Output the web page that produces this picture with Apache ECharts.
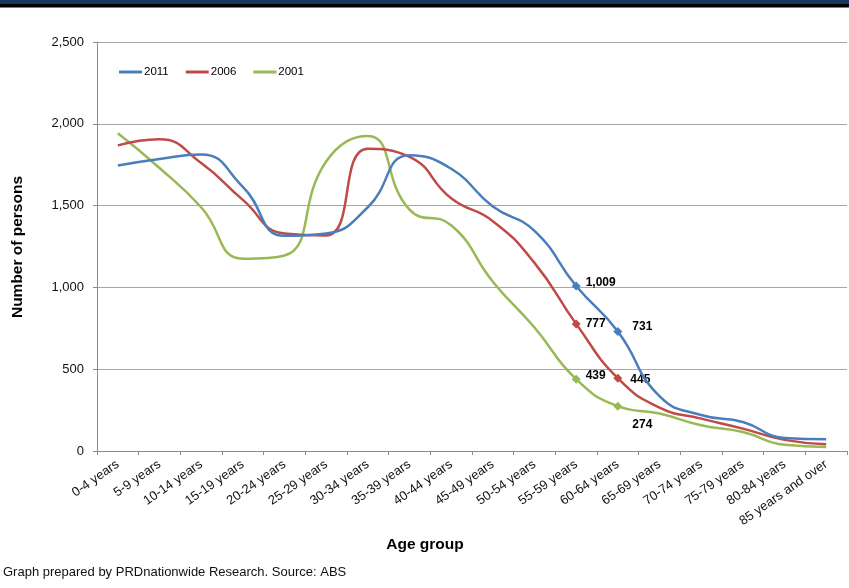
<!DOCTYPE html>
<html>
<head>
<meta charset="utf-8">
<script src="https://cdn.jsdelivr.net/npm/echarts@6/dist/echarts.min.js"></script>
<style>
html,body{margin:0;padding:0;background:#fff;}
#chart{width:849px;height:588px;}
</style>
</head>
<body>
<div id="chart"></div>
<script>
const categories = ['0-4 years','5-9 years','10-14 years','15-19 years','20-24 years','25-29 years','30-34 years','35-39 years','40-44 years','45-49 years','50-54 years','55-59 years','60-64 years','65-69 years','70-74 years','75-79 years','80-84 years','85 years and over'];
const seriesNames = ['2011','2006','2001'];
const values2011 = [1745, 1785, 1812, 1615, 1315, 1330, 1490, 1808, 1725, 1495, 1345, 1009, 731, 335, 220, 177, 80, 72];
const values2006 = [1868, 1905, 1760, 1535, 1330, 1318, 1848, 1798, 1545, 1405, 1150, 777, 445, 265, 198, 137, 68, 42];
const values2001 = [1942, 1730, 1490, 1175, 1195, 1770, 1925, 1475, 1380, 1035, 755, 439, 274, 229, 157, 116, 38, 25];
const labelledIndices = [11, 12];
const yTicks = [0, 500, 1000, 1500, 2000, 2500];

const colors = ['#4A7EBB', '#BE4B48', '#98B954'];
const labelOffsets = [
  {11: [0, -3], 12: [5, -5]},
  {11: [0, 0], 12: [3, 1]},
  {11: [0, -3], 12: [5, 19]}
];

const FONT = 'Liberation Sans, Arial, sans-serif';

function buildData(values, k) {
  return values.map((v, i) => {
    if (labelledIndices.indexOf(i) >= 0) {
      return {
        value: v,
        symbol: 'diamond',
        symbolSize: 9,
        label: {
          show: true,
          position: 'right',
          distance: 5,
          offset: labelOffsets[k][i],
          formatter: p => Number(p.value).toLocaleString('en-US'),
          fontFamily: FONT,
          fontSize: 12,
          fontWeight: 'bold',
          color: '#000'
        }
      };
    }
    return {value: v, symbol: 'none'};
  });
}

const allValues = [values2011, values2006, values2001];

const chart = echarts.init(document.getElementById('chart'), null, {renderer: 'canvas'});
chart.setOption({
  animation: false,
  backgroundColor: '#fff',
  textStyle: {fontFamily: FONT},
  graphic: [
    {type: 'rect', left: 0, top: 0, shape: {width: 849, height: 4}, style: {fill: '#17375E'}},
    {type: 'rect', left: 0, top: 4, shape: {width: 849, height: 3.5}, style: {fill: '#000'}},
    {type: 'text', left: 3, top: 566, style: {text: 'Graph prepared by PRDnationwide Research. Source: ABS', font: '13px ' + FONT, fill: '#111'}},
    {type: 'text', x: 425, y: 545, style: {text: 'Age group', font: 'bold 15.5px ' + FONT, fill: '#000', align: 'center', verticalAlign: 'middle'}},
    {type: 'text', x: 18, y: 247, rotation: Math.PI / 2, style: {text: 'Number of persons', font: 'bold 15.5px ' + FONT, fill: '#000', align: 'center', verticalAlign: 'middle'}}
  ],
  legend: {
    left: 119,
    top: 66,
    padding: 0,
    icon: 'rect',
    itemWidth: 23,
    itemHeight: 3,
    itemGap: 17,
    textStyle: {fontFamily: FONT, fontSize: 11.5, color: '#000', padding: [0, 0, 0, -3]},
    data: seriesNames
  },
  grid: {left: 97, right: 2, top: 42, bottom: 137, containLabel: false},
  xAxis: {
    type: 'category',
    data: categories,
    boundaryGap: true,
    axisLine: {lineStyle: {color: '#8c8c8c', width: 1}},
    axisTick: {show: true, length: 4, lineStyle: {color: '#8c8c8c'}, alignWithLabel: false},
    axisLabel: {rotate: 35, margin: 12, fontSize: 13, color: '#111', fontFamily: FONT, interval: 0}
  },
  yAxis: {
    type: 'value',
    min: yTicks[0],
    max: yTicks[yTicks.length - 1],
    interval: 500,
    axisLine: {show: true, lineStyle: {color: '#8c8c8c', width: 1}},
    axisTick: {show: true, length: 4, lineStyle: {color: '#8c8c8c'}},
    axisLabel: {margin: 13, fontSize: 13, color: '#111', fontFamily: FONT, formatter: v => v.toLocaleString('en-US')},
    splitLine: {show: true, lineStyle: {color: '#a6a6a6', width: 1}}
  },
  series: seriesNames.map((name, k) => ({
    name: name,
    type: 'line',
    smooth: 0.5,
    showSymbol: true,
    showAllSymbol: true,
    symbol: 'none',
    lineStyle: {width: 2.5, color: colors[k]},
    itemStyle: {color: colors[k]},
    data: buildData(allValues[k], k),
    z: 3 - k
  }))
});
</script>
</body>
</html>
